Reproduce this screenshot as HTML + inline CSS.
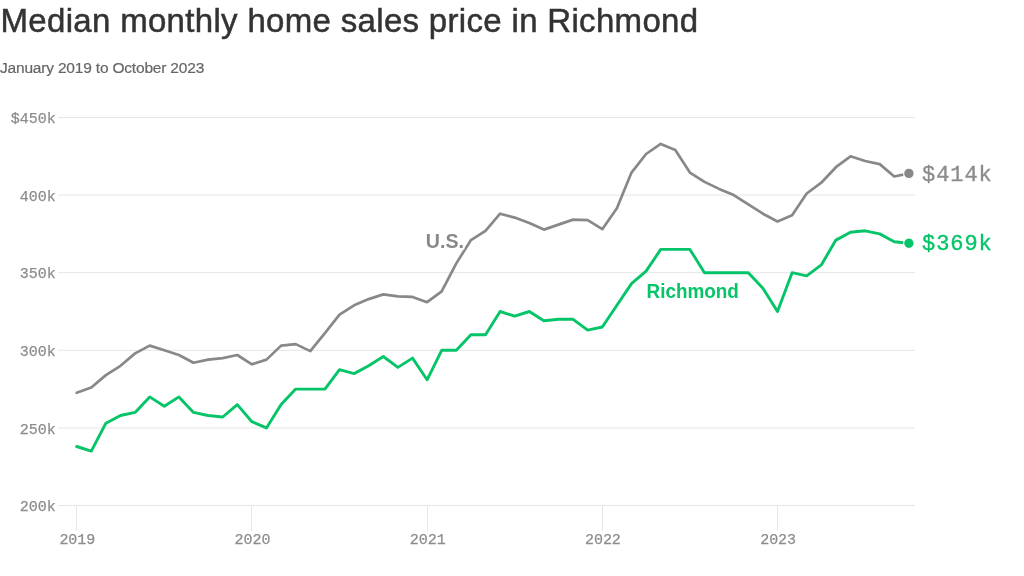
<!DOCTYPE html>
<html><head><meta charset="utf-8"><title>Median monthly home sales price in Richmond</title>
<style>
html,body{margin:0;padding:0;background:#fff;}
body{width:1024px;height:576px;overflow:hidden;position:relative;font-family:"Liberation Sans",Arial,sans-serif;}
h1{position:absolute;left:0.5px;top:0.8px;-webkit-text-stroke:0.5px #333;margin:0;font-weight:400;font-size:33px;line-height:40px;color:#333;letter-spacing:0.32px;white-space:nowrap;}
h2{position:absolute;left:0px;top:57.7px;margin:0;font-weight:400;font-size:15.5px;line-height:20px;color:#666;letter-spacing:-0.19px;-webkit-text-stroke:0.2px #666;white-space:nowrap;}
svg{position:absolute;left:0;top:0;}
.g{stroke:#e6e6e6;stroke-width:1;shape-rendering:auto;}
.ax{font-family:"Liberation Mono",monospace;font-size:15px;fill:#8c8c8c;letter-spacing:-0.05px;stroke:#8c8c8c;stroke-width:0.25px;}
.ln{fill:none;stroke-width:3;stroke-linejoin:round;stroke-linecap:round;}
.lb{font-family:"Liberation Sans",Arial,sans-serif;font-weight:700;font-size:19.8px;paint-order:stroke;stroke:#fff;stroke-width:4px;stroke-linejoin:round;}
.val{font-family:"Liberation Mono",monospace;font-size:22px;letter-spacing:0.95px;stroke-width:0.35px;}
</style></head><body>
<h1>Median monthly home sales price in Richmond</h1>
<h2>January 2019 to October 2023</h2>
<svg width="1024" height="576" viewBox="0 0 1024 576">
<line x1="58" x2="915" y1="505.5" y2="505.5" class="g"/>
<text x="55.6" y="511.2" class="ax" text-anchor="end">200k</text>
<line x1="58" x2="915" y1="427.9" y2="427.9" class="g"/>
<text x="55.6" y="433.6" class="ax" text-anchor="end">250k</text>
<line x1="58" x2="915" y1="350.3" y2="350.3" class="g"/>
<text x="55.6" y="356.0" class="ax" text-anchor="end">300k</text>
<line x1="58" x2="915" y1="272.7" y2="272.7" class="g"/>
<text x="55.6" y="278.4" class="ax" text-anchor="end">350k</text>
<line x1="58" x2="915" y1="195.1" y2="195.1" class="g"/>
<text x="55.6" y="200.8" class="ax" text-anchor="end">400k</text>
<line x1="58" x2="915" y1="117.5" y2="117.5" class="g"/>
<text x="55.6" y="123.2" class="ax" text-anchor="end">$450k</text>
<line x1="76.5" x2="76.5" y1="505.5" y2="531" class="g"/>
<text x="77.3" y="543.6" class="ax" text-anchor="middle">2019</text>
<line x1="251.5" x2="251.5" y1="505.5" y2="531" class="g"/>
<text x="252.5" y="543.6" class="ax" text-anchor="middle">2020</text>
<line x1="427.5" x2="427.5" y1="505.5" y2="531" class="g"/>
<text x="427.7" y="543.6" class="ax" text-anchor="middle">2021</text>
<line x1="602.5" x2="602.5" y1="505.5" y2="531" class="g"/>
<text x="602.9" y="543.6" class="ax" text-anchor="middle">2022</text>
<line x1="777.5" x2="777.5" y1="505.5" y2="531" class="g"/>
<text x="778.1" y="543.6" class="ax" text-anchor="middle">2023</text>

<path class="ln" style="stroke-width:2.7" stroke="#888888" d="M76.7,392.8 L91.3,387.5 L105.9,375.1 L120.5,365.8 L135.1,353.4 L149.7,345.6 L164.3,350.3 L178.9,355.0 L193.5,362.7 L208.1,359.6 L222.7,358.1 L237.3,355.0 L251.9,364.3 L266.5,359.6 L281.1,345.6 L295.7,344.1 L310.3,351.1 L324.9,333.2 L339.5,314.6 L354.1,305.3 L368.7,299.1 L383.3,294.4 L397.9,296.4 L412.5,296.9 L427.1,302.2 L441.7,291.3 L456.3,263.4 L470.9,240.1 L485.5,230.8 L500.1,213.7 L514.7,217.6 L529.3,223.0 L543.9,229.6 L558.5,224.6 L573.1,219.6 L587.7,220.2 L602.3,229.2 L616.9,208.3 L631.5,172.6 L646.1,154.0 L660.7,143.9 L675.3,150.1 L689.9,172.6 L704.5,181.9 L719.1,188.9 L733.7,195.1 L748.3,204.4 L762.9,213.7 L777.5,221.5 L792.1,215.3 L806.7,193.5 L821.3,182.7 L835.9,167.2 L850.5,156.3 L865.1,161.0 L879.7,164.1 L894.3,176.5 L908.9,173.4"/>
<path class="ln" style="stroke-width:2.9" stroke="#06c468" d="M76.7,446.5 L91.3,451.2 L105.9,423.2 L120.5,415.5 L135.1,412.4 L149.7,396.9 L164.3,406.2 L178.9,396.9 L193.5,412.4 L208.1,415.5 L222.7,417.0 L237.3,404.6 L251.9,421.7 L266.5,427.9 L281.1,404.6 L295.7,389.1 L310.3,389.1 L324.9,389.1 L339.5,369.7 L354.1,373.6 L368.7,365.8 L383.3,356.5 L397.9,367.4 L412.5,358.1 L427.1,379.8 L441.7,350.3 L456.3,350.3 L470.9,334.8 L485.5,334.8 L500.1,311.5 L514.7,316.2 L529.3,311.5 L543.9,320.8 L558.5,319.3 L573.1,319.3 L587.7,330.1 L602.3,327.0 L616.9,305.3 L631.5,283.6 L646.1,271.1 L660.7,249.4 L675.3,249.4 L689.9,249.4 L704.5,272.7 L719.1,272.7 L733.7,272.7 L748.3,272.7 L762.9,288.2 L777.5,311.5 L792.1,272.7 L806.7,275.8 L821.3,264.9 L835.9,240.1 L850.5,232.3 L865.1,230.8 L879.7,233.9 L894.3,241.7 L908.9,243.2"/>
<circle cx="908.9" cy="173.4" r="5.3" fill="#888888" stroke="#fff" stroke-width="1.2"/>
<circle cx="908.9" cy="243.2" r="5.3" fill="#06c468" stroke="#fff" stroke-width="1.2"/>
<text class="lb" transform="translate(425.8,247.8) scale(0.99,1)" fill="#888888">U.S.</text>
<text class="lb" transform="translate(646.6,297.9) scale(0.954,1)" fill="#06c468">Richmond</text>
<text class="val" x="922" y="180.5" fill="#8c8c8c" stroke="#8c8c8c">$414k</text>
<text class="val" x="922" y="250.3" fill="#06c468" stroke="#06c468">$369k</text>
</svg>
</body></html>
